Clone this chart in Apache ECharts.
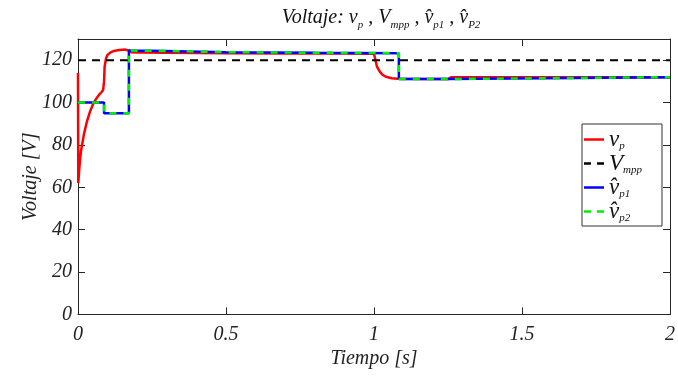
<!DOCTYPE html>
<html><head><meta charset="utf-8">
<script src="https://cdn.jsdelivr.net/npm/echarts@6/dist/echarts.min.js"></script>
<style>html,body{margin:0;padding:0;background:#fff}#c{width:678px;height:376px}</style>
</head><body><div id="c"></div>
<script>
// ---- data ----
var tRed = [0, 0.001, 0.005, 0.01, 0.02, 0.03, 0.04, 0.05, 0.06, 0.07, 0.08, 0.085, 0.088, 0.09, 0.095, 0.1, 0.11, 0.12, 0.14, 0.16, 0.17, 0.18, 0.2, 0.3, 0.5, 0.7, 0.9, 1.0, 1.005, 1.01, 1.02, 1.03, 1.04, 1.06, 1.08, 1.2, 1.25, 1.26, 1.5, 1.8, 2];
var vRed = [114, 62, 70, 77, 85, 91, 95.5, 99, 101.5, 103.5, 105, 106, 110, 117, 121, 122.5, 123.7, 124.3, 124.8, 125, 124.6, 123.8, 123.6, 123.5, 123.3, 123.2, 123.1, 123, 120, 117, 114.5, 113, 112.2, 111.5, 111.2, 111.1, 111.1, 111.9, 112, 112, 112];
var tEst = [0, 0.088, 0.088, 0.172, 0.172, 0.2, 0.247, 0.25, 0.5, 0.8, 1.084, 1.084, 1.25, 1.25, 2];
var vEst1 = [100, 100, 95, 95, 124.6, 124.5, 124.5, 124, 123.8, 123.5, 123.3, 111.1, 111.1, 112, 112];
var vEst2 = [100, 100, 95, 95, 124.6, 124.5, 124.5, 124, 123.8, 123.5, 123.3, 111.1, 111.1, 112, 112];
var tMpp = [0, 2];
var vMpp = [120, 120];
var xTicks = ['0', '0.5', '1', '1.5', '2'];
var seriesNames = ['vp', 'Vmpp', 'vp1', 'vp2'];

function pairs(t, v) { return t.map(function (x, i) { return [x, v[i]]; }); }

var FONT = 'Liberation Serif';
var axisCol = '#262626';
var chart = echarts.init(document.getElementById('c'), null, {renderer: 'canvas'});
function frameAxis() {
  return {
    axisLine: {show: true, onZero: false, lineStyle: {color: axisCol, width: 1}},
    axisTick: {show: true, inside: true, length: 7, lineStyle: {color: axisCol}},
    splitLine: {show: false}
  };
}
var legendLabels = {
  vp: '{m|v}{s|p}',
  Vmpp: '{m|V}{s|mpp}',
  vp1: '{m|v\u0302}{s|p1}',
  vp2: '{m|v\u0302}{s|p2}'
};
var solidIcon = 'path://M0,0h20v2.5h-20z';
var dashIcon = 'path://M0,0h7v2.5h-7z M13,0h7v2.5h-7z';
chart.setOption({
  animation: false,
  backgroundColor: '#fff',
  title: {
    text: '{m|Voltaje: v}{s|p}{m| , V}{s|mpp}{m| , v\u0302}{s|p1}{m| , v\u0302}{s|P2}',
    left: 376, top: 0, textAlign: 'center',
    textStyle: {
      fontWeight: 'normal',
      rich: {
        m: {fontFamily: FONT, fontStyle: 'italic', fontWeight: 'normal', fontSize: 20, color: '#111', lineHeight: 26},
        s: {fontFamily: FONT, fontStyle: 'italic', fontWeight: 'normal', fontSize: 11, color: '#111', verticalAlign: 'bottom'}
      }
    }
  },
  grid: {left: 78, right: 4, top: 39, bottom: 61.5},
  legend: {
    orient: 'vertical', left: 582, top: 124, width: 85,
    data: [
      {name: 'vp', icon: solidIcon},
      {name: 'Vmpp', icon: dashIcon},
      {name: 'vp1', icon: solidIcon},
      {name: 'vp2', icon: dashIcon}
    ],
    backgroundColor: '#fff', borderColor: '#333', borderWidth: 1,
    padding: [4, 20, 2, 2], itemGap: 0, itemWidth: 20, itemHeight: 2.5,
    formatter: function (n) { return legendLabels[n]; },
    textStyle: {
      rich: {
        m: {fontFamily: FONT, fontStyle: 'italic', fontSize: 23, color: '#111', lineHeight: 25},
        s: {fontFamily: FONT, fontStyle: 'italic', fontSize: 11, color: '#111', verticalAlign: 'bottom'}
      }
    }
  },
  xAxis: [
    Object.assign({type: 'value', min: 0, max: 2, interval: 0.5, position: 'bottom',
      name: 'Tiempo [s]', nameLocation: 'middle', nameGap: 34, nameMoveOverlap: false,
      nameTextStyle: {fontFamily: FONT, fontStyle: 'italic', fontSize: 20, color: '#222'},
      axisLabel: {fontFamily: FONT, fontStyle: 'italic', fontSize: 20, color: '#222', margin: 10,
        formatter: function (v) { return xTicks[Math.round(v / 0.5)]; }}}, frameAxis()),
    Object.assign({type: 'value', min: 0, max: 2, interval: 0.5, position: 'top',
      axisLabel: {show: false}}, frameAxis())
  ],
  yAxis: [
    Object.assign({type: 'value', min: 0, max: 130, interval: 20, position: 'left',
      name: 'Voltaje [V]', nameLocation: 'middle', nameGap: 37, nameMoveOverlap: false,
      nameTextStyle: {fontFamily: FONT, fontStyle: 'italic', fontSize: 20, color: '#222'},
      axisLabel: {fontFamily: FONT, fontStyle: 'italic', fontSize: 20, color: '#222', margin: 6, showMaxLabel: false,
        formatter: function (v) { return v > 120 ? '' : String(v); }}}, frameAxis()),
    Object.assign({type: 'value', min: 0, max: 130, interval: 20, position: 'right',
      axisLabel: {show: false}}, frameAxis())
  ],
  series: [
    {name: 'vp', type: 'line', data: pairs(tRed, vRed), showSymbol: false, symbol: 'none',
      lineStyle: {color: '#ff0000', width: 2.5}, itemStyle: {color: '#ff0000'}, z: 2},
    {name: 'Vmpp', type: 'line', data: pairs(tMpp, vMpp), showSymbol: false, symbol: 'none',
      lineStyle: {color: '#000', width: 2, type: [8, 6]}, itemStyle: {color: '#000'}, z: 3},
    {name: 'vp1', type: 'line', data: pairs(tEst, vEst1), showSymbol: false, symbol: 'none',
      lineStyle: {color: '#0000ff', width: 2.5}, itemStyle: {color: '#0000ff'}, z: 4},
    {name: 'vp2', type: 'line', data: pairs(tEst, vEst2), showSymbol: false, symbol: 'none',
      lineStyle: {color: '#00ee00', width: 2.5, type: [7, 7]}, itemStyle: {color: '#00ee00'}, z: 5}
  ]
});
</script></body></html>
